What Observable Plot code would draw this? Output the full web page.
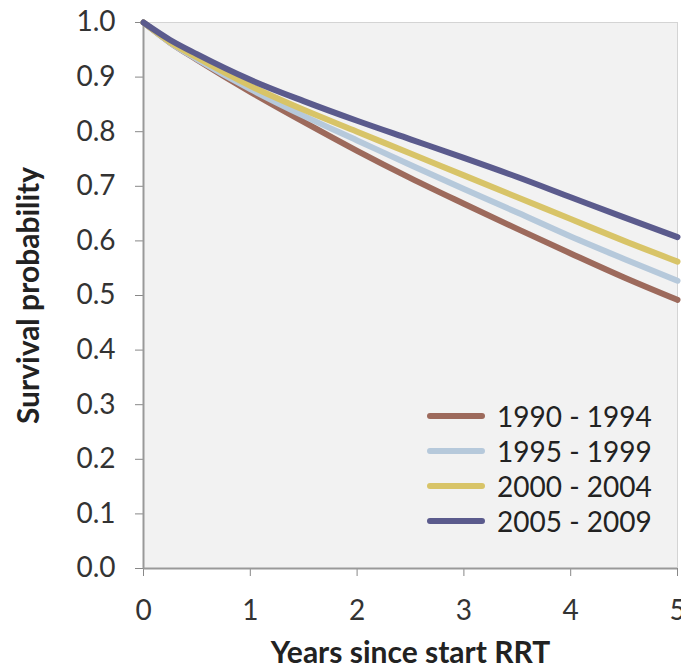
<!DOCTYPE html>
<html>
<head>
<meta charset="utf-8">
<script src="https://cdn.jsdelivr.net/npm/d3@7"></script>
<script src="https://cdn.jsdelivr.net/npm/@observablehq/plot@0.6"></script>
<style>
  html, body { margin: 0; padding: 0; background: #fff; }
  #wrap { position: relative; width: 681px; height: 669px; }
  svg g[aria-label="x-axis label"] text, svg g[aria-label="y-axis label"] text { font-weight: bold; fill: #222; font-size: 30px; }
  #legend { position: absolute; left: 427px; top: 398px; font-family: Lato, sans-serif; font-size: 28px; color: #222; }
  #legend .row { display: flex; align-items: center; height: 35px; }
  #legend .swatch { width: 58px; height: 6px; border-radius: 3px; margin-right: 12px; }
</style>
</head>
<body>
<div id="wrap"></div>
<script>
const years = [0, 0.25, 0.5, 1, 1.5, 2, 2.5, 3, 3.5, 4, 4.5, 5];
const cohorts = ["1990 - 1994", "1995 - 1999", "2000 - 2004", "2005 - 2009"];
const surv1990 = [1.0, 0.963, 0.932, 0.873, 0.818, 0.765, 0.715, 0.668, 0.622, 0.577, 0.533, 0.492];
const surv1995 = [1.0, 0.963, 0.933, 0.878, 0.829, 0.784, 0.739, 0.695, 0.652, 0.608, 0.567, 0.527];
const surv2000 = [1.0, 0.964, 0.936, 0.884, 0.84, 0.80, 0.76, 0.72, 0.68, 0.64, 0.60, 0.562];
const surv2005 = [1.0, 0.968, 0.942, 0.895, 0.856, 0.82, 0.786, 0.752, 0.717, 0.68, 0.643, 0.607];
const colors = ["#9d6a5c", "#b6c9db", "#d8c468", "#5b5b8d"];
const xTicks = [0, 1, 2, 3, 4, 5];
const yTicks = [0, 0.1, 0.2, 0.3, 0.4, 0.5, 0.6, 0.7, 0.8, 0.9, 1.0];

const seriesValues = [surv1990, surv1995, surv2000, surv2005];
const data = cohorts.flatMap((c, i) => years.map((t, j) => ({cohort: c, t, s: seriesValues[i][j]})));

const chart = Plot.plot({
  width: 681,
  height: 669,
  marginLeft: 143,
  marginRight: 4,
  marginTop: 22,
  marginBottom: 101,
  x: {domain: [0, 5]},
  y: {domain: [0, 1]},
  color: {domain: cohorts, range: colors},
  style: {fontFamily: "Lato, sans-serif", fontSize: "28px", color: "#333", background: "#fff"},
  marks: [
    Plot.frame({fill: "#f2f2f2", stroke: "#d4d4d4"}),
    Plot.axisY({ticks: yTicks, tickFormat: d => d.toFixed(1), tickSize: 8, tickPadding: 20, stroke: "#888",
      label: "Survival probability", labelAnchor: "center", labelArrow: "none", labelOffset: 126}),
    Plot.axisX({ticks: xTicks, tickFormat: d => String(d), tickSize: 8, tickPadding: 24, stroke: "#888",
      label: "Years since start RRT", labelAnchor: "center", labelArrow: "none", labelOffset: 94}),
    Plot.ruleX([0], {stroke: "#999", strokeWidth: 2}),
    Plot.ruleY([0], {stroke: "#999", strokeWidth: 2}),
    Plot.line(data, {x: "t", y: "s", stroke: "cohort", z: "cohort", strokeWidth: 6, curve: "monotone-x", strokeLinecap: "round"})
  ]
});
const wrap = document.getElementById("wrap");
wrap.appendChild(chart);

const legend = document.createElement("div");
legend.id = "legend";
cohorts.forEach((c, i) => {
  const row = document.createElement("div");
  row.className = "row";
  const sw = document.createElement("span");
  sw.className = "swatch";
  sw.style.background = colors[i];
  const tx = document.createElement("span");
  tx.textContent = c;
  row.appendChild(sw);
  row.appendChild(tx);
  legend.appendChild(row);
});
wrap.appendChild(legend);
</script>
</body>
</html>
